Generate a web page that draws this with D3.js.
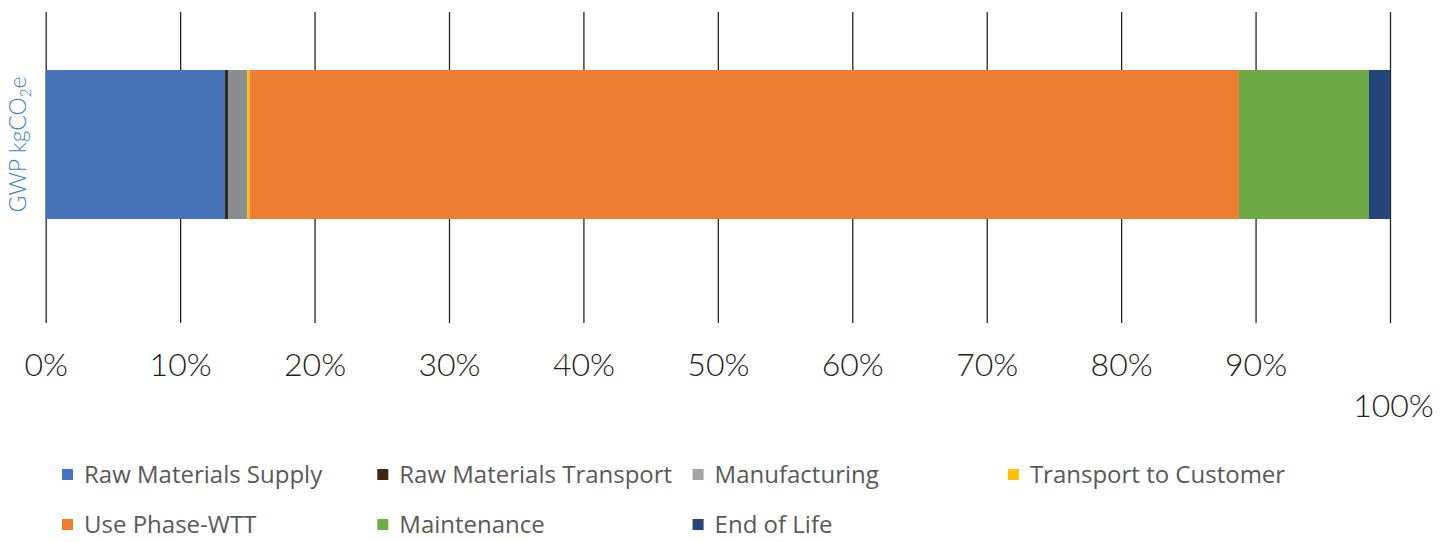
<!DOCTYPE html>
<html>
<head>
<meta charset="utf-8">
<script src="https://cdn.jsdelivr.net/npm/d3@7"></script>
<style>
  body { margin: 0; background: #fff; }
  svg { display: block; }
</style>
</head>
<body>
<svg id="chart"></svg>
<script>
// life cycle stages and their share of GWP (percent)
const stages = [
  "Raw Materials Supply", "Raw Materials Transport", "Manufacturing",
  "Transport to Customer", "Use Phase-WTT", "Maintenance", "End of Life"
];
const shares = [13.34, 0.22, 1.41, 0.22, 73.57, 9.67, 1.57];
const barColors = ["#4672b8", "#35281a", "#8a8d8d", "#fcb823", "#ed7d31", "#70aa47", "#25457a"];
const legendColors = ["#4472c4", "#3b2a14", "#a5a5a5", "#ffc000", "#ed7d31", "#70ad47", "#264478"];
const category = ["GWP kgCO2e"];
const tickValues = [0, 10, 20, 30, 40, 50, 60, 70, 80, 90, 100];

const width = 1451, height = 542;
const margin = { top: 12, right: 61, bottom: 219, left: 45.7 };

const svg = d3.select("#chart").attr("width", width).attr("height", height);

const x = d3.scaleLinear()
  .domain([0, 100])
  .range([margin.left, width - margin.right]);

const y = d3.scaleBand()
  .domain(category)
  .range([margin.top, height - margin.bottom])
  .paddingInner(0)
  .paddingOuter(0.5436)
  .align(0.358);

// stack the shares into segments
let acc = 0;
const segments = shares.map((v, i) => {
  const s = { stage: stages[i], x0: acc, x1: acc + v, color: barColors[i] };
  acc += v;
  return s;
});

svg.append("g")
  .selectAll("rect")
  .data(segments)
  .enter()
  .append("rect")
  .attr("x", d => x(d.x0))
  .attr("y", y(category[0]))
  .attr("width", d => x(d.x1) - x(d.x0))
  .attr("height", y.bandwidth())
  .attr("fill", d => d.color);

// gridlines + tick labels
const xAxis = d3.axisBottom(x)
  .tickValues(tickValues)
  .tickFormat(d => d + "%")
  .tickSizeInner(-(height - margin.bottom - margin.top))
  .tickSizeOuter(0);

const gx = svg.append("g")
  .attr("transform", `translate(0,${height - margin.bottom})`)
  .call(xAxis);

gx.select(".domain").remove();
gx.selectAll(".tick line")
  .attr("stroke", "#262626")
  .attr("stroke-width", 1.3);
gx.selectAll(".tick text")
  .attr("y", 53)
  .attr("dy", 0)
  .attr("fill", "#222")
  .style("font-family", "Lato, 'DejaVu Sans', sans-serif")
  .style("font-weight", 300)
  .style("font-size", "32px");
// the 100% label sits lower in the original
gx.selectAll(".tick text")
  .filter(d => d === 100)
  .attr("y", 94)
  .attr("dx", 3);

// gridlines sit behind the bar
gx.lower();

// y axis title
const yLabel = svg.append("text")
  .attr("transform", `translate(26,${y(category[0]) + y.bandwidth() / 2}) rotate(-90)`)
  .attr("text-anchor", "middle")
  .attr("fill", "#3a82c4")
  .style("font-family", "Lato, 'DejaVu Sans', sans-serif")
  .style("font-weight", 300)
  .style("font-size", "23px");
yLabel.append("tspan").text("GWP kgCO");
yLabel.append("tspan").attr("dy", 5).style("font-size", "15px").text("2");
yLabel.append("tspan").attr("dy", -5).text("e");

// legend, 4 columns
const legend = svg.append("g").attr("transform", "translate(62,475)");
const item = legend.selectAll("g")
  .data(stages)
  .enter()
  .append("g")
  .attr("transform", (d, i) => `translate(${(i % 4) * 315.3},${Math.floor(i / 4) * 50})`);

item.append("rect")
  .attr("x", 0)
  .attr("y", -6)
  .attr("width", 11)
  .attr("height", 11)
  .attr("fill", (d, i) => legendColors[i]);

item.append("text")
  .attr("x", 22)
  .attr("y", 0)
  .attr("dy", "0.35em")
  .attr("fill", "#595959")
  .style("font-family", "'Open Sans', sans-serif")
  .style("font-size", "24px")
  .text(d => d);
</script>
</body>
</html>
